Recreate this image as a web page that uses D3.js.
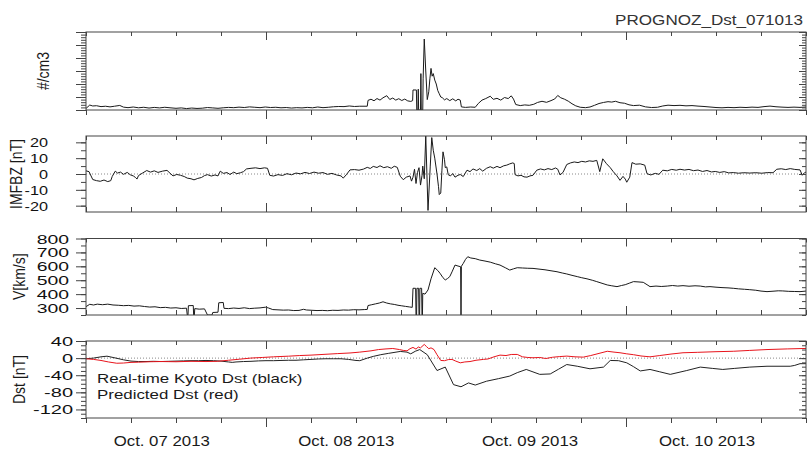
<!DOCTYPE html>
<html>
<head>
<meta charset="utf-8">
<script src="https://cdn.jsdelivr.net/npm/d3@7"></script>
<style>
  body { margin: 0; background: #fff; }
  svg { display: block; font-family: "Liberation Sans", Arial, sans-serif; }
</style>
</head>
<body>
<svg id="chart" width="807" height="449"></svg>
<script>
// ---- data (x = hours since the left edge of the plot, 4 days wide) ----
const hourTicks = d3.range(0, 97, 6);
const longTickHours = [24, 72];
const dayLabels = ['Oct. 07 2013', 'Oct. 08 2013', 'Oct. 09 2013', 'Oct. 10 2013'];
const dayLabelHours = [10.1, 34.7, 59.2, 82.8];

// proton density, #/cm3
const density = [
  [0, 1.2], [0.5, 3.8], [0.9, 3.1], [1.4, 3.3], [2, 2.6], [2.6, 2.9], [3.2, 2.4], [3.8, 2.9], [4.5, 3.5],
  [5, 2.2], [5.6, 1.8], [6.3, 2.3], [7, 1.7], [7.7, 2.1], [8.4, 1.5], [9.1, 2.0], [9.8, 1.6], [10.5, 2.1],
  [11.2, 1.7], [12, 1.3], [12.7, 1.6], [13.4, 1.1], [14.1, 1.5], [14.8, 1.2], [15.5, 1.4], [16.2, 1.9],
  [16.9, 1.6], [17.6, 1.3], [18.3, 1.7], [19, 2.0], [19.7, 1.8], [20.4, 2.2], [21.1, 1.9], [21.8, 2.4],
  [22.5, 2.1], [23.2, 1.8], [23.9, 2.3], [24.6, 1.9], [25.3, 2.1], [26, 1.7], [26.7, 1.9], [27.4, 1.5],
  [28.1, 1.8], [28.8, 1.6], [29.5, 2.0], [30.2, 1.7], [30.9, 2.3], [31.6, 1.8], [32.3, 2.1], [33, 2.5],
  [33.7, 2.7], [34.4, 2.6], [35.1, 3.1], [35.8, 2.7], [36.5, 2.9], [37.5, 2.9], [37.6, 7.4], [38, 8.3],
  [38.4, 7.1], [38.8, 8.8], [39.2, 7.6], [39.6, 9.4], [40.1, 11.0], [40.5, 8.1], [40.9, 9.2], [41.3, 7.6],
  [41.7, 8.7], [42.1, 7.3], [42.5, 8.4], [42.9, 7.0], [43.3, 6.6], [43.55, 7.2], [43.6, 15.4], [44.05, 15.4],
  [44.1, 0], [44.25, 0], [44.3, 16], [44.35, 0], [44.6, 0], [44.65, 28], [44.7, 0], [44.9, 0], [44.95, 24],
  [45.1, 54.6], [45.3, 30], [45.5, 8], [45.7, 14], [45.85, 24], [46, 32], [46.15, 26], [46.3, 28], [46.5, 23],
  [46.7, 20], [46.9, 15], [47.1, 12.5], [47.3, 10], [47.5, 9.5], [47.8, 7.8], [48.1, 8.8], [48.5, 7.2],
  [48.9, 8.6], [49.3, 7.0], [49.6, 8.3], [49.9, 7.6], [50.05, 2.4], [50.6, 2.0], [51.3, 2.3], [51.9, 2.1],
  [52.3, 5.0], [52.8, 7.6], [53.3, 8.8], [53.9, 10.6], [54.3, 8.2], [54.8, 9.0], [55.3, 7.6], [55.8, 9.6],
  [56.3, 8.8], [56.7, 10.9], [57.0, 8.4], [57.3, 4.2], [57.9, 3.4], [58.5, 3.9], [59.1, 3.6], [59.7, 4.4],
  [60.2, 5.8], [60.8, 6.7], [61.4, 5.9], [62, 7.2], [62.5, 8.5], [62.9, 11.2], [63.3, 9.4], [63.8, 8.3],
  [64.3, 6.8], [64.8, 4.8], [65.3, 3.2], [65.9, 2.1], [66.6, 1.8], [67.2, 2.3], [67.8, 3.6], [68.4, 5.0],
  [69, 5.8], [69.6, 6.4], [70.1, 6.1], [70.6, 6.7], [71.2, 5.6], [71.8, 5.2], [72.4, 4.0], [73, 3.4],
  [73.8, 3.7], [74.6, 2.4], [75.4, 1.9], [76.2, 2.1], [76.9, 3.1], [77.6, 3.7], [78.4, 3.4], [79.2, 3.6],
  [80, 3.2], [80.8, 3.4], [81.6, 3.0], [82.4, 2.7], [83.2, 2.3], [84, 1.9], [84.8, 1.7], [85.6, 2.0],
  [86.4, 1.8], [87.2, 2.1], [88, 1.9], [88.8, 2.2], [89.6, 2.0], [90.4, 2.6], [91.2, 3.0], [92, 2.5],
  [92.8, 2.2], [93.6, 2.0], [94.4, 2.2], [95.2, 2.0], [96, 2.3],
];

// IMF Bz, nT
const imfbz = [
  [0, 2], [0.4, 1.5], [0.9, -3.5], [1.4, -4.2], [1.9, -4.6], [2.4, -3.8], [2.9, -4.8], [3.3, -4.2], [3.5, -1.5],
  [3.9, 1.8], [4.2, 0.6], [4.6, 1.2], [5, -0.2], [5.5, 1.0], [5.9, -0.5], [6.3, -1.2], [6.6, -2.2], [6.8, -3.2],
  [7.0, -1.0], [7.5, 0.5], [8.1, 2.2], [8.6, 1.2], [9.1, 2.0], [9.6, 1.0], [10.2, 1.8], [10.8, 2.3], [11.2, 0.5],
  [11.6, -1.2], [12.1, -0.3], [12.6, -0.8], [13.1, -1.6], [13.5, -2.6], [14, -3.0], [14.4, -3.7], [14.9, -2.8],
  [15.4, -2.2], [15.8, -1.0], [16.2, -0.4], [16.7, -1.3], [17.2, -0.6], [17.6, -1.2], [17.9, 1.8], [18.3, 0.4],
  [18.8, 0.9], [19.2, -0.3], [19.7, 1.2], [20.1, 0.2], [20.6, 0.8], [21, 1.5], [21.4, 3.2], [22, 3.6], [22.6, 3.9],
  [23.2, 3.4], [23.8, 3.9], [24.2, 3.6], [24.5, -0.8], [25, -1.3], [25.6, -0.4], [26.2, -0.9], [26.8, 0.2],
  [27.4, -0.5], [28, 0.6], [28.6, 0.1], [29.2, 1.0], [29.8, 0.3], [30.4, 1.2], [31, 0.5], [31.6, 0.9], [32.2, -0.2],
  [32.8, 0.4], [33.4, -0.6], [34, -1.2], [34.3, -2.6], [34.7, -0.5], [35.2, 2.6], [35.8, 2.8], [36.4, 2.4],
  [37, 3.1], [37.5, 4.2], [37.9, 3.5], [38.3, 4.8], [38.8, 4.1], [39.2, 5.2], [39.7, 4.0], [40.2, 4.6], [40.7, 3.6],
  [41.1, 4.9], [41.5, 4.2], [41.9, -1.4], [42.3, -3.6], [42.7, -2.0], [43.2, -1.2], [43.4, -4.5], [43.6, -2],
  [43.8, 3], [44, -6], [44.2, 1], [44.4, 4], [44.6, -7], [44.8, -1], [44.9, 5], [45.1, -3], [45.3, 24], [45.6, -23],
  [45.9, 5], [46.1, 23], [46.3, 15], [46.5, 10], [46.8, 0], [47.0, -8], [47.1, -13], [47.3, -12], [47.45, 2],
  [47.6, 14], [47.8, 9], [47.9, 4], [48.1, 4.5], [48.3, -0.5], [48.6, -1.2], [48.9, 0.3], [49.2, -2.0], [49.6, -0.8],
  [49.9, -0.3], [50.3, -1.6], [50.8, 2.4], [51.2, 1.5], [51.6, 3.2], [52.1, 2.2], [52.5, 3.4], [52.9, 1.8],
  [53.4, 3.6], [53.9, 4.6], [54.3, 3.7], [54.8, 4.8], [55.2, 4.0], [55.7, 5.2], [56.1, 5.6], [56.5, 6.4], [56.9, 7.0],
  [57.1, 6.6], [57.2, -0.4], [57.6, -1.2], [58, -0.8], [58.4, -1.8], [58.8, -2.0], [59.2, -1.2], [59.6, -0.8],
  [60.1, 2.4], [60.6, 3.2], [61.1, 2.6], [61.6, 3.4], [62.1, 2.8], [62.6, 3.8], [62.9, 3.0], [63.2, -0.6],
  [63.6, 1.0], [64.1, 6.0], [64.6, 7.0], [65.1, 7.6], [65.6, 7.2], [66.1, 8.0], [66.6, 7.6], [67.1, 8.3],
  [67.6, 8.0], [68.1, 8.6], [68.5, 1.5], [68.9, 9.6], [69.4, 6.5], [69.9, 4.0], [70.3, 1.5], [70.8, -1.2],
  [71.2, -4.0], [71.6, -1.5], [71.9, -3.2], [72.1, -5.2], [72.5, -2.0], [72.8, 7.2], [73.3, 6.2], [73.9, 6.4],
  [74.5, 5.6], [74.8, 0.2], [75.3, -0.6], [75.9, 0.4], [76.4, -0.2], [76.9, 2.4], [77.5, 2.0], [78.1, 2.9],
  [78.7, 2.4], [79.2, 3.0], [79.8, 2.5], [80.4, 2.9], [81, 2.1], [81.6, 2.5], [82.2, 1.6], [82.8, 2.2], [83.4, 1.3],
  [83.9, 1.6], [84.5, 1.0], [85.1, 1.5], [85.7, 0.7], [86.3, 0.9], [87, 0.5], [87.7, 0.8], [88.5, 0.6], [89.3, 0.8],
  [90.1, 0.5], [90.9, 0.9], [91.6, 0.8], [92.1, 3.0], [92.7, 3.3], [93.3, 2.8], [93.9, 3.4], [94.5, 2.9],
  [95.2, 2.6], [95.5, -0.8], [95.8, 0.8], [96, 1.2],
];

// solar wind speed, km/s (drops to the floor are data gaps)
const velocity = [
  [0, 310], [0.5, 327], [1, 322], [1.5, 328], [2.2, 324], [2.9, 328], [3.6, 322], [4.3, 320], [5, 317], [5.7, 319],
  [6.4, 314], [7.1, 316], [7.8, 311], [8.5, 307], [9.2, 309], [9.9, 303], [10.6, 305], [11.3, 300], [12, 302],
  [12.7, 297], [13.4, 299], [13.5, 250], [13.6, 250], [13.65, 317], [14.3, 318], [14.35, 250], [14.45, 250],
  [14.5, 296], [15.1, 292], [15.8, 294], [16.2, 250], [16.8, 250], [16.9, 268], [17.6, 270], [17.7, 338],
  [18.3, 340], [18.4, 298], [19, 296], [19.7, 300], [20.4, 297], [21.1, 302], [21.8, 296], [22.5, 299],
  [23.2, 301], [23.9, 306], [24.3, 301], [24.9, 289], [25.6, 287], [26.3, 285], [27, 286], [27.7, 282],
  [28.4, 283], [29, 291], [29.4, 286], [30.1, 284], [30.8, 282], [31.5, 283], [32.2, 281], [32.9, 284],
  [33.6, 283], [34.3, 286], [35, 285], [35.7, 288], [36.4, 287], [37.1, 289], [37.5, 290], [37.6, 318],
  [38.1, 324], [38.6, 330], [39.1, 336], [39.6, 345], [40.1, 336], [40.6, 330], [41.1, 326], [41.6, 320],
  [42.1, 316], [42.6, 312], [43.1, 308], [43.5, 305], [43.6, 442], [43.95, 442], [44, 250], [44.08, 250],
  [44.12, 442], [44.35, 442], [44.4, 250], [44.48, 250], [44.52, 442], [44.75, 442], [44.8, 250], [44.86, 250],
  [44.9, 406], [45.2, 400], [45.6, 430], [46, 510], [46.5, 590], [46.9, 570], [47.2, 550], [47.6, 518],
  [47.9, 502], [48.2, 512], [48.5, 526], [48.8, 560], [49.2, 609], [49.6, 602], [49.95, 597], [50, 250],
  [50.05, 600], [50.3, 621], [50.6, 650], [50.9, 669], [51.3, 660], [51.9, 655], [52.5, 645], [53.2, 638],
  [53.9, 630], [54.6, 618], [55.2, 609], [55.9, 590], [56.5, 573], [57.0, 582], [57.5, 590], [58.2, 588],
  [58.9, 586], [59.6, 585], [60.4, 580], [61.2, 575], [62, 568], [62.8, 561], [63.5, 552], [64.1, 545],
  [64.8, 535], [65.5, 526], [66.1, 518], [66.8, 510], [67.5, 500], [68.1, 490], [68.8, 478], [69.5, 466],
  [70.1, 460], [70.8, 454], [71.4, 462], [71.9, 468], [72.5, 480], [73, 490], [73.6, 488], [74.3, 485],
  [74.8, 468], [75.2, 454], [76, 458], [76.7, 455], [77.5, 458], [78.2, 462], [78.9, 458], [79.6, 461],
  [80.4, 457], [81.2, 460], [81.9, 458], [82.6, 452], [83.2, 454], [84, 450], [84.8, 447], [85.6, 445],
  [86.3, 442], [87, 438], [87.8, 435], [88.5, 432], [89.3, 428], [90, 422], [90.8, 418], [91.6, 421],
  [92.3, 424], [92.9, 423], [93.7, 420], [94.5, 419], [95.2, 418], [96, 422],
];

// real-time Kyoto Dst (black), nT
const dstKyoto = [
  [0, -1.5], [1, 0], [2, 3], [2.8, 4.5], [4, 0], [5, -4], [6, -7], [7, -8], [8, -8], [9, -7.5], [10, -8],
  [11, -7.5], [12, -7], [13, -6.5], [14, -6], [15, -6], [16, -5.5], [17, -6], [18, -7], [19, -9], [19.5, -10],
  [20, -9], [21, -8], [22, -7.5], [23, -6.5], [24, -6], [25, -6], [26, -5.5], [27, -5], [28, -5], [29, -4],
  [30, -3], [31, -2], [32, -1.5], [33, -1.5], [34, -1.5], [35, -3], [36, -5.5], [36.5, -6], [37.5, 0],
  [38.3, 4], [39.3, 8], [40.3, 11], [41.9, 15.6], [42.8, 14], [43.3, 10], [43.9, 16], [44.5, 20], [45.5, 8],
  [46.8, -29], [47.9, -21], [49, -62], [50, -67], [51, -58], [51.9, -63], [53.4, -54], [55, -48], [56.5, -42],
  [57.5, -34], [58.7, -26.5], [60.5, -38], [61.9, -37], [63, -26], [64.1, -15], [65.5, -19], [67.2, -25],
  [69, -21], [69.9, -5.5], [71, -6], [72.1, -11], [73, -20], [73.9, -30], [75.2, -26.5], [76.5, -32],
  [77.9, -38], [80.1, -29], [81.9, -21], [83.5, -24], [84.9, -26.5], [86.5, -24], [88.5, -21], [90.8, -19],
  [93.9, -19], [94.5, -17], [95.2, -13], [96, -13],
];

// predicted Dst (red), nT
const dstPredicted = [
  [0, -1.5], [1, -3], [2, -5.5], [3, -9], [4.1, -12], [5, -11.5], [6, -10], [7, -9.5], [8.5, -8.5], [10, -8],
  [12, -8.5], [14, -7.5], [16, -8], [17.5, -7.5], [19, -5], [20.5, -2.5], [21.9, 0], [23.5, 1.5], [25, 3],
  [27, 4.5], [28.5, 6], [30, 7], [32, 9], [33.5, 10.5], [35.2, 12], [36.5, 14], [38, 17], [39, 20], [40, 21.5],
  [40.9, 22.5], [41.8, 20], [42.3, 18], [42.8, 17], [43.2, 22], [43.6, 25], [44, 21], [44.3, 26], [44.6, 24],
  [45.1, 32], [45.4, 27], [45.7, 22], [46, 24], [46.4, 20], [46.8, 8], [47.3, -5.5], [47.8, -6], [48.3, -3.5],
  [48.8, -3], [49.3, -7], [49.9, -11], [50.5, -9], [51.2, -8], [52, -5], [53, -3], [53.6, -2], [54.4, 3],
  [55.2, 7], [56, 6], [56.7, 8.5], [57.5, 8.6], [58.2, 3], [58.9, 1.5], [59.6, 0.8], [60.5, 1.5], [61.3, -1],
  [62.2, 2], [63.1, 3.5], [64.1, 4.7], [65.2, 3], [66.3, 2.3], [67.3, 6], [68.4, 11], [69.5, 16], [70.4, 14],
  [71.2, 12.5], [72.1, 10], [73, 8], [74, 5], [75.2, 3], [76.5, 6], [78, 9.5], [79.6, 12.5], [81.5, 13.5],
  [84, 15], [86.3, 16], [88.5, 18], [90.8, 20], [93.5, 21.5], [96, 22.6],
];

// ---- layout ----
const svg = d3.select('#chart');
const frameColor = '#444';
const x = d3.scaleLinear().domain([0, 96]).range([86, 806]);
const x0 = x(0);
const x1 = x(96);

const panels = [
  {
    label: '#/cm3', labelX: 43, top: 32, bottom: 110, domain: [0, 60],
    majors: d3.range(0, 61, 10), minors: d3.range(0, 61, 2), tickLabels: false,
    series: [{ data: density, color: '#1a1a1a' }], bottomTicksOut: true,
  },
  {
    label: 'IMFBZ [nT]', labelX: 16, top: 136, bottom: 212, domain: [-24, 24],
    majors: [-20, -10, 0, 10, 20], minors: d3.range(-20, 21, 5), tickLabels: true,
    labelRight: 48, labelStretch: 1.3,
    zeroLine: true, series: [{ data: imfbz, color: '#1a1a1a' }], bottomTicksOut: false,
  },
  {
    label: 'V[km/s]', labelX: 19, top: 238.5, bottom: 315, domain: [250, 800],
    majors: d3.range(300, 801, 100), minors: d3.range(250, 801, 50), tickLabels: true,
    labelRight: 69, labelStretch: 1.55,
    series: [{ data: velocity, color: '#1a1a1a' }], bottomTicksOut: false,
  },
  {
    label: 'Dst [nT]', labelX: 19, top: 341, bottom: 418, domain: [-140, 40],
    majors: [-120, -80, -40, 0, 40], minors: d3.range(-140, 41, 10), tickLabels: true,
    labelRight: 73, labelStretch: 1.6,
    zeroLine: true, bottomTicksOut: true,
    series: [{ data: dstKyoto, color: '#222' }, { data: dstPredicted, color: '#e8141c' }],
  },
];

// text drawn slightly wider than the font, like the original bitmap
function stretchText(sel, px, py, str, size, sx, anchor) {
  return sel.append('text')
    .attr('transform', `translate(${px},${py}) scale(${sx},1)`)
    .attr('text-anchor', anchor)
    .style('font-size', `${size}px`)
    .attr('fill', '#1a1a1a')
    .text(str);
}

function styleAxis(g) {
  g.select('.domain').remove();
  g.selectAll('line').attr('stroke', frameColor);
}

panels.forEach((p, i) => {
  const y = d3.scaleLinear().domain(p.domain).range([p.bottom, p.top]);
  const g = svg.append('g');

  g.append('clipPath').attr('id', `clip${i}`)
    .append('rect')
    .attr('x', x0).attr('y', p.top)
    .attr('width', x1 - x0).attr('height', p.bottom - p.top);

  if (p.zeroLine) {
    g.append('line')
      .attr('x1', x0).attr('x2', x1)
      .attr('y1', y(0)).attr('y2', y(0))
      .attr('stroke', '#888')
      .attr('stroke-dasharray', '1,2');
  }

  const line = d3.line()
    .x(d => x(d[0]))
    .y(d => y(d[1]));

  p.series.forEach((s) => {
    g.append('path')
      .datum(s.data)
      .attr('clip-path', `url(#clip${i})`)
      .attr('d', line)
      .attr('fill', 'none')
      .attr('stroke', s.color)
      .attr('stroke-width', 1)
      .attr('stroke-linejoin', 'round');
  });

  // frame
  g.append('rect')
    .attr('x', x0).attr('y', p.top)
    .attr('width', x1 - x0).attr('height', p.bottom - p.top)
    .attr('fill', 'none')
    .attr('stroke', frameColor);

  // left axis: minor + major ticks
  g.append('g')
    .attr('transform', `translate(${x0},0)`)
    .call(d3.axisLeft(y).tickValues(p.minors).tickSize(5).tickFormat(''))
    .call(styleAxis);

  // plain hyphen for negatives, as in the original
  const left = g.append('g')
    .attr('transform', `translate(${x0},0)`)
    .call(d3.axisLeft(y).tickValues(p.majors).tickSize(10)
      .tickFormat(p.tickLabels ? d => String(d) : ''))
    .call(styleAxis);

  left.selectAll('text')
    .attr('x', null)
    .attr('dy', '0.36em')
    .attr('fill', '#111')
    .attr('font-family', '"Liberation Sans", Arial, sans-serif')
    .style('font-size', '12.5px')
    .attr('transform', `translate(${p.labelRight - x0},0) scale(${p.labelStretch || 1},1)`);

  // right axis, ticks pointing inward
  g.append('g')
    .attr('transform', `translate(${x1},0)`)
    .call(d3.axisRight(y).tickValues(p.minors).tickSize(-4).tickFormat(''))
    .call(styleAxis);
  g.append('g')
    .attr('transform', `translate(${x1},0)`)
    .call(d3.axisRight(y).tickValues(p.majors).tickSize(-7).tickFormat(''))
    .call(styleAxis);

  // top axis, ticks inward
  g.append('g')
    .attr('transform', `translate(0,${p.top})`)
    .call(d3.axisTop(x).tickValues(hourTicks).tickSize(-4).tickFormat(''))
    .call(styleAxis);
  g.append('g')
    .attr('transform', `translate(0,${p.top})`)
    .call(d3.axisTop(x).tickValues(longTickHours).tickSize(-8).tickFormat(''))
    .call(styleAxis);

  // bottom axis
  const dir = p.bottomTicksOut ? 1 : -1;
  g.append('g')
    .attr('transform', `translate(0,${p.bottom})`)
    .call(d3.axisBottom(x).tickValues(hourTicks).tickSize(5 * dir).tickFormat(''))
    .call(styleAxis);
  g.append('g')
    .attr('transform', `translate(0,${p.bottom})`)
    .call(d3.axisBottom(x).tickValues(longTickHours).tickSize(9 * dir).tickFormat(''))
    .call(styleAxis);

  // y label, rotated
  g.append('text')
    .attr('transform', `translate(${p.labelX},${(p.top + p.bottom) / 2}) scale(1.15,1) rotate(-90)`)
    .attr('text-anchor', 'middle')
    .attr('dominant-baseline', 'central')
    .style('font-size', '14px')
    .attr('fill', '#1a1a1a')
    .text(p.label);
});

// date labels under the last panel
dayLabels.forEach((d, i) => {
  stretchText(svg, x(dayLabelHours[i]), 446, d, 14, 1.2, 'middle');
});

// title
stretchText(svg, 803, 25, 'PROGNOZ_Dst_071013', 14, 1.22, 'end').attr('fill', '#333');

// legend inside Dst panel
stretchText(svg, 97, 383, 'Real-time Kyoto Dst (black)', 13, 1.3, 'start');
stretchText(svg, 97, 399, 'Predicted Dst (red)', 13, 1.3, 'start');
</script>
</body>
</html>
